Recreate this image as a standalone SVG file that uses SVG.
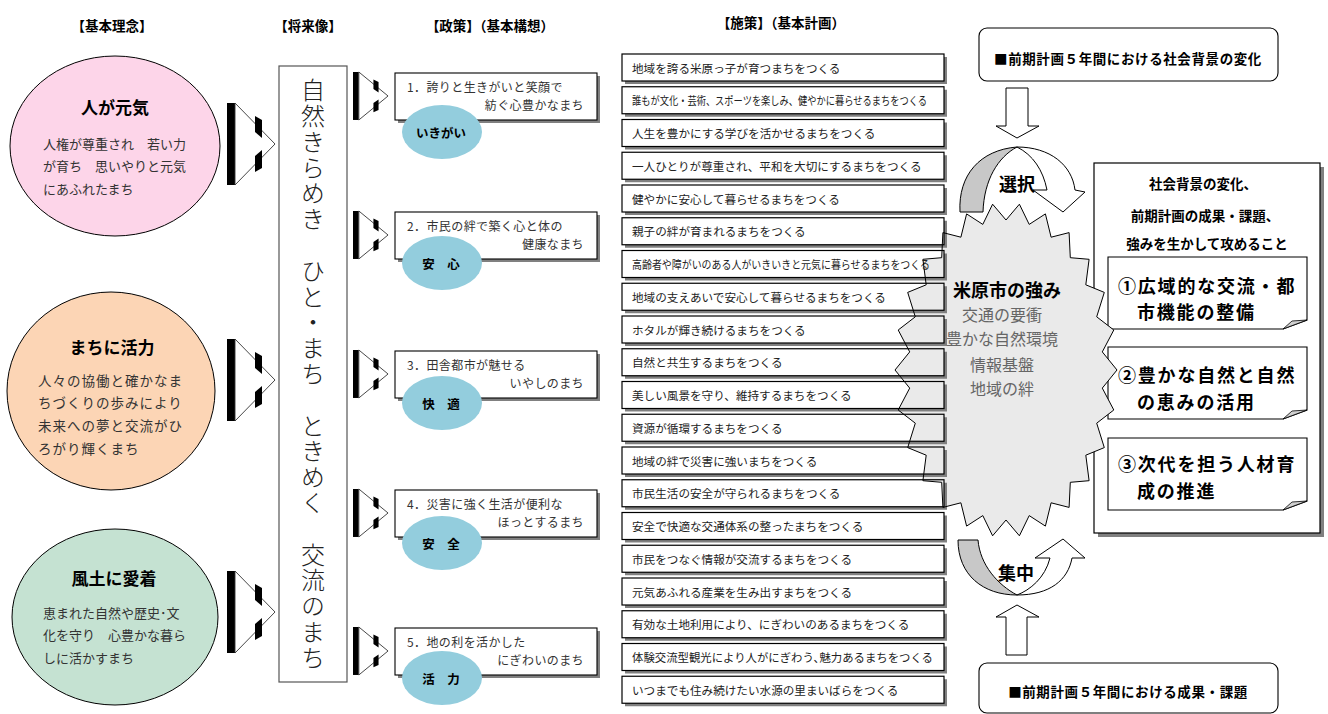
<svg xmlns="http://www.w3.org/2000/svg" xmlns:xlink="http://www.w3.org/1999/xlink" width="1328" height="714" viewBox="0 0 1328 714">
<style>
text{font-family:"Noto Sans CJK JP","Noto Sans CJK SC",sans-serif;}
.hdr{font-size:13.5px;font-weight:bold;text-anchor:middle;dominant-baseline:central;fill:#000}
.ttl{font-size:17px;font-weight:bold;text-anchor:middle;dominant-baseline:central;fill:#000}
.body{font-size:13px;fill:#333;dominant-baseline:central}
.vis{font-size:24px;fill:#222;font-weight:300;writing-mode:vertical-rl;letter-spacing:1.8px}
.ptxt{font-size:12px;fill:#333;dominant-baseline:central;letter-spacing:0.4px}
.lbl{font-size:12.5px;font-weight:bold;text-anchor:middle;dominant-baseline:central;fill:#000}
.item{font-size:11.6px;fill:#222;dominant-baseline:central}
.bold13{font-size:13.5px;font-weight:bold;text-anchor:middle;dominant-baseline:central;fill:#000}
.note{font-size:18px;font-weight:bold;dominant-baseline:central;fill:#000;letter-spacing:1.8px}
.kw{font-size:18px;font-weight:bold;text-anchor:middle;dominant-baseline:central;fill:#000}
.str{font-size:16px;fill:#666;text-anchor:middle;dominant-baseline:central}
.blue{fill:#93CDDD;stroke:none}
</style>
<defs>
<g id="chev">
<rect x="0" y="0" width="8" height="82" fill="#000"/>
<polygon points="8,0 48,41 8,82" fill="#fff" stroke="#333" stroke-width="0.9" vector-effect="non-scaling-stroke"/>
<polygon points="28,13 35,17 35,35 28,29" fill="#000"/>
<polygon points="28,53 35,47 35,65 28,69" fill="#000"/>
</g>
<g id="row">
<path d="M322 3h3v27H3v-3h319Z" fill="#808080"/>
<rect x="0" y="0" width="322" height="27" fill="none" stroke="#000" stroke-width="1.2"/>
</g>
<g id="pbox">
<rect x="3" y="3" width="202" height="47" fill="#808080"/>
<rect x="0" y="0" width="202" height="47" fill="#fff" stroke="#000" stroke-width="1.1"/>
</g>
<g id="notebox">
<path d="M0 0H199V63L175 72H0Z" fill="#fff" stroke="#000" stroke-width="1.1"/>
<polygon points="175,72 184,64 199,63" fill="#d0d0d0" stroke="#000" stroke-width="0.8"/>
</g>
</defs>
<rect width="1328" height="714" fill="#fff"/>

<g id="headers">
<text class="hdr" x="112" y="25">【基本理念】</text>
<text class="hdr" x="308" y="25">【将来像】</text>
<text class="hdr" x="490" y="25">【政策】（基本構想）</text>
<text class="hdr" x="781" y="22">【施策】（基本計画）</text>
</g>

<g id="idea1">
<ellipse cx="115" cy="146" rx="105" ry="90" fill="#FDD5E9" stroke="#000" stroke-width="1"/>
<text class="ttl" x="115" y="106">人が元気</text>
<text class="body" x="43" y="143">人権が尊重され　若い力</text>
<text class="body" x="43" y="165.5">が育ち　思いやりと元気</text>
<text class="body" x="43" y="188">にあふれたまち</text>
</g>
<g id="idea2">
<ellipse cx="111" cy="391" rx="104" ry="99" fill="#FCD5B5" stroke="#000" stroke-width="1"/>
<text class="ttl" x="112" y="346">まちに活力</text>
<text class="body" x="38" y="380" style="font-size:13.5px;letter-spacing:1px">人々の協働と確かなま</text>
<text class="body" x="38" y="402" style="font-size:13.5px;letter-spacing:1px">ちづくりの歩みにより</text>
<text class="body" x="38" y="425" style="font-size:13.5px;letter-spacing:1px">未来への夢と交流がひ</text>
<text class="body" x="38" y="448" style="font-size:13.5px;letter-spacing:1px">ろがり輝くまち</text>
</g>
<g id="idea3">
<ellipse cx="115" cy="617" rx="103" ry="88" fill="#C5E2D2" stroke="#000" stroke-width="1"/>
<text class="ttl" x="114" y="577">風土に愛着</text>
<text class="body" x="43" y="612">恵まれた自然や歴史･文</text>
<text class="body" x="43" y="634">化を守り　心豊かな暮ら</text>
<text class="body" x="43" y="657">しに活かすまち</text>
</g>

<g id="connectors">
<use href="#chev" transform="translate(227,103)"/>
<use href="#chev" transform="translate(227,339)"/>
<use href="#chev" transform="translate(227,571)"/>
<use href="#chev" transform="translate(353,72) scale(0.73,0.585)"/>
<use href="#chev" transform="translate(353,211) scale(0.73,0.585)"/>
<use href="#chev" transform="translate(353,350) scale(0.73,0.585)"/>
<use href="#chev" transform="translate(353,489) scale(0.73,0.585)"/>
<use href="#chev" transform="translate(353,627) scale(0.73,0.585)"/>
<polygon id="arrow-down" points="1006,88 1028,88 1028,126 1039,126 1017,138 996,126 1006,126" fill="#fff" stroke="#000" stroke-width="1"/>
<polygon id="arrow-up" points="1006,655 1027,655 1027,617 1039,617 1017,605 996,617 1006,617" fill="#fff" stroke="#000" stroke-width="1"/>
</g>

<g id="vision">
<rect x="279" y="66" width="68" height="616" fill="#fff" stroke="#555" stroke-width="1.2"/>
<text class="vis" x="313" y="78">自然きらめき　ひと・まち　ときめく　交流のまち</text>
</g>

<g id="policy1">
<use href="#pbox" x="395" y="73"/>
<text class="ptxt" x="407" y="86.5">1．誇りと生きがいと笑顔で</text>
<text class="ptxt" x="584" y="104" text-anchor="end">紡ぐ心豊かなまち</text>
<ellipse class="blue" cx="442" cy="132" rx="40" ry="27"/>
<text class="lbl" x="441" y="132">いきがい</text>
</g>
<g id="policy2">
<use href="#pbox" x="395" y="212"/>
<text class="ptxt" x="407" y="225.5">2．市民の絆で築く心と体の</text>
<text class="ptxt" x="584" y="243" text-anchor="end">健康なまち</text>
<ellipse class="blue" cx="442" cy="263" rx="40" ry="27"/>
<text class="lbl" x="441" y="263">安　心</text>
</g>
<g id="policy3">
<use href="#pbox" x="395" y="351"/>
<text class="ptxt" x="407" y="364.5">3．田舎都市が魅せる</text>
<text class="ptxt" x="584" y="382" text-anchor="end">いやしのまち</text>
<ellipse class="blue" cx="442" cy="403" rx="40" ry="27"/>
<text class="lbl" x="441" y="403">快　適</text>
</g>
<g id="policy4">
<use href="#pbox" x="395" y="490"/>
<text class="ptxt" x="407" y="503.5">4．災害に強く生活が便利な</text>
<text class="ptxt" x="584" y="521" text-anchor="end">ほっとするまち</text>
<ellipse class="blue" cx="442" cy="543" rx="40" ry="27"/>
<text class="lbl" x="441" y="543">安　全</text>
</g>
<g id="policy5">
<use href="#pbox" x="395" y="628"/>
<text class="ptxt" x="407" y="641.5">5．地の利を活かした</text>
<text class="ptxt" x="584" y="659" text-anchor="end">にぎわいのまち</text>
<ellipse class="blue" cx="442" cy="678" rx="40" ry="27"/>
<text class="lbl" x="441" y="678">活　力</text>
</g>

<g id="attack-box">
<rect x="1098" y="167" width="226" height="370" fill="#808080"/>
<rect x="1094" y="163" width="226" height="370" fill="#fff" stroke="#000" stroke-width="1.2"/>
<text class="bold13" x="1203" y="183">社会背景の変化、</text>
<text class="bold13" x="1205" y="215">前期計画の成果・課題、</text>
<text class="bold13" x="1207" y="243">強みを生かして攻めること</text>
</g>
<g id="note1">
<use href="#notebox" x="1108" y="257"/>
<text class="note" x="1118" y="284.5">①広域的な交流・都</text>
<text class="note" x="1137" y="311">市機能の整備</text>
</g>
<g id="note2">
<use href="#notebox" x="1108" y="347"/>
<text class="note" x="1118" y="374">②豊かな自然と自然</text>
<text class="note" x="1137" y="400.5">の恵みの活用</text>
</g>
<g id="note3">
<use href="#notebox" x="1108" y="438"/>
<text class="note" x="1118" y="463">③次代を担う人材育</text>
<text class="note" x="1137" y="489.5">成の推進</text>
</g>

<g id="top-box">
<rect x="979" y="28" width="299" height="53" rx="8" fill="#fff" stroke="#000" stroke-width="1.1"/>
<text class="bold13" x="1128" y="58" style="letter-spacing:0.6px">■前期計画５年間における社会背景の変化</text>
</g>
<g id="bottom-box">
<rect x="979" y="663" width="299" height="50" rx="8" fill="#fff" stroke="#000" stroke-width="1.1"/>
<text class="bold13" x="1128" y="691" style="letter-spacing:0.6px">■前期計画５年間における成果・課題</text>
</g>

<g id="select-arrow">
<path d="M960,212 C958,175 980,150 1017,147 C998,157 984,180 983,212 Z" fill="#C8C8C8" stroke="#000" stroke-width="1"/>
<path d="M1017,147 C1050,147 1072,165 1075,190 L1085,192 L1063,212 L1033,190 L1047,190 C1043,170 1033,155 1017,147 Z" fill="#fff" stroke="#000" stroke-width="1"/>
<text class="kw" x="1017" y="183">選択</text>
</g>
<g id="focus-arrow">
<path d="M958,540 C958,575 983,595 1017,595 C998,585 980,565 978,540 Z" fill="#C8C8C8" stroke="#000" stroke-width="1"/>
<path d="M1017,595 C1050,595 1068,580 1072,558 L1085,558 L1063,539 L1035,558 L1050,558 C1045,578 1030,590 1017,595 Z" fill="#fff" stroke="#000" stroke-width="1"/>
<text class="kw" x="1016" y="572">集中</text>
</g>

<g id="strength-fill">
<polygon points="1117,370 1102.3,388.1 1113.8,410 1096.7,423.2 1104.3,447.6 1085.8,455.2 1089.1,480.7 1070.3,482.3 1069.1,507.4 1051.1,502.8 1045.4,526.1 1029.2,515.6 1019.4,535.8 1006,520 992.6,535.8 982.8,515.6 966.6,526.1 960.9,502.8 942.9,507.4 941.7,482.3 922.9,480.7 926.2,455.2 907.7,447.6 915.3,423.2 898.2,410 909.7,388.1 895,370 909.7,351.9 898.2,330 915.3,316.8 907.7,292.4 926.2,284.8 922.9,259.3 941.7,257.7 942.9,232.6 960.9,237.2 966.6,213.9 982.8,224.4 992.6,204.2 1006,220 1019.4,204.2 1029.2,224.4 1045.4,213.9 1051.1,237.2 1069.1,232.6 1070.3,257.7 1089.1,259.3 1085.8,284.8 1104.3,292.4 1096.7,316.8 1113.8,330 1102.3,351.9" fill="#EAEAEA" stroke="none"/>
</g>

<g id="measures">
<use href="#row" x="622" y="54"/>
<use href="#row" x="622" y="86.75"/>
<use href="#row" x="622" y="119.5"/>
<use href="#row" x="622" y="152.25"/>
<use href="#row" x="622" y="185"/>
<use href="#row" x="622" y="217.75"/>
<use href="#row" x="622" y="250.5"/>
<use href="#row" x="622" y="283.25"/>
<use href="#row" x="622" y="316"/>
<use href="#row" x="622" y="348.75"/>
<use href="#row" x="622" y="381.5"/>
<use href="#row" x="622" y="414.25"/>
<use href="#row" x="622" y="447"/>
<use href="#row" x="622" y="479.75"/>
<use href="#row" x="622" y="512.5"/>
<use href="#row" x="622" y="545.25"/>
<use href="#row" x="622" y="578"/>
<use href="#row" x="622" y="610.75"/>
<use href="#row" x="622" y="643.5"/>
<use href="#row" x="622" y="676.25"/>
<text class="item" x="632" y="67.5">地域を誇る米原っ子が育つまちをつくる</text>
<text class="item" x="632" y="100.25" textLength="295" lengthAdjust="spacingAndGlyphs">誰もが文化・芸術、スポーツを楽しみ、健やかに暮らせるまちをつくる</text>
<text class="item" x="632" y="133">人生を豊かにする学びを活かせるまちをつくる</text>
<text class="item" x="632" y="165.75">一人ひとりが尊重され、平和を大切にするまちをつくる</text>
<text class="item" x="632" y="198.5">健やかに安心して暮らせるまちをつくる</text>
<text class="item" x="632" y="231.25">親子の絆が育まれるまちをつくる</text>
<text class="item" x="632" y="264" textLength="298" lengthAdjust="spacingAndGlyphs">高齢者や障がいのある人がいきいきと元気に暮らせるまちをつくる</text>
<text class="item" x="632" y="296.75">地域の支えあいで安心して暮らせるまちをつくる</text>
<text class="item" x="632" y="329.5">ホタルが輝き続けるまちをつくる</text>
<text class="item" x="632" y="362.25">自然と共生するまちをつくる</text>
<text class="item" x="632" y="395">美しい風景を守り、維持するまちをつくる</text>
<text class="item" x="632" y="427.75">資源が循環するまちをつくる</text>
<text class="item" x="632" y="460.5">地域の絆で災害に強いまちをつくる</text>
<text class="item" x="632" y="493.25">市民生活の安全が守られるまちをつくる</text>
<text class="item" x="632" y="526">安全で快適な交通体系の整ったまちをつくる</text>
<text class="item" x="632" y="558.75">市民をつなぐ情報が交流するまちをつくる</text>
<text class="item" x="632" y="591.5">元気あふれる産業を生み出すまちをつくる</text>
<text class="item" x="632" y="624.25">有効な土地利用により、にぎわいのあるまちをつくる</text>
<text class="item" x="632" y="657" textLength="301" lengthAdjust="spacingAndGlyphs">体験交流型観光により人がにぎわう､魅力あるまちをつくる</text>
<text class="item" x="632" y="689.75">いつまでも住み続けたい水源の里まいばらをつくる</text>
</g>

<g id="strength">
<polygon points="1117,370 1102.3,388.1 1113.8,410 1096.7,423.2 1104.3,447.6 1085.8,455.2 1089.1,480.7 1070.3,482.3 1069.1,507.4 1051.1,502.8 1045.4,526.1 1029.2,515.6 1019.4,535.8 1006,520 992.6,535.8 982.8,515.6 966.6,526.1 960.9,502.8 942.9,507.4 941.7,482.3 922.9,480.7 926.2,455.2 907.7,447.6 915.3,423.2 898.2,410 909.7,388.1 895,370 909.7,351.9 898.2,330 915.3,316.8 907.7,292.4 926.2,284.8 922.9,259.3 941.7,257.7 942.9,232.6 960.9,237.2 966.6,213.9 982.8,224.4 992.6,204.2 1006,220 1019.4,204.2 1029.2,224.4 1045.4,213.9 1051.1,237.2 1069.1,232.6 1070.3,257.7 1089.1,259.3 1085.8,284.8 1104.3,292.4 1096.7,316.8 1113.8,330 1102.3,351.9" fill="none" stroke="#000" stroke-width="1"/>
<text class="kw" x="1007" y="289">米原市の強み</text>
<text class="str" x="1002" y="314">交通の要衝</text>
<text class="str" x="1002" y="338">豊かな自然環境</text>
<text class="str" x="1002" y="364">情報基盤</text>
<text class="str" x="1002" y="388">地域の絆</text>
</g>
</svg>
